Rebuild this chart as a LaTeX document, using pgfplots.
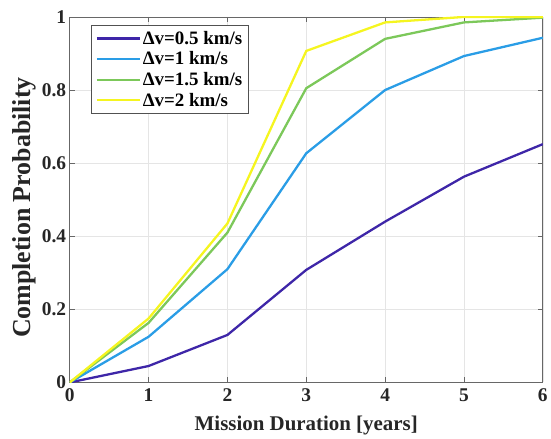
\documentclass[border=0pt]{standalone}
\usepackage{fontspec}
\setmainfont{Liberation Serif}
\usepackage{pgfplots}
\pgfplotsset{compat=1.18}
\definecolor{cA}{HTML}{3E26A8}
\definecolor{cB}{HTML}{2A9DE6}
\definecolor{cC}{HTML}{7CC85A}
\definecolor{cD}{HTML}{F5F520}
\definecolor{axgray}{HTML}{262626}
\begin{document}
\begin{tikzpicture}
\begin{axis}[
  name=ax,
  scale only axis, width=475pt, height=367pt,
  xmin=0, xmax=6, ymin=0, ymax=1,
  xtick={0,1,2,3,4,5,6}, ytick={0,0.2,0.4,0.6,0.8,1},
  tick align=inside, major tick length=5pt,
  grid=major, grid style={gray!20, line width=0.6pt},
  axis line style={axgray!70, line width=0.8pt},
  tick style={axgray!70, line width=0.8pt},
  ticklabel style={font=\fontsize{19.5}{21}\selectfont\bfseries, text=axgray},
  xticklabel style={yshift=-3pt},
  /pgf/number format/assume math mode=true,
  xlabel={Mission Duration [years]}, ylabel={Completion Probability},
  xlabel style={font=\fontsize{21}{23}\selectfont\bfseries, text=axgray, yshift=-7pt},
  ylabel style={font=\fontsize{26}{28}\selectfont\bfseries, text=axgray, yshift=-1pt, xshift=-8pt},
  legend style={at={(0.046,0.978)}, anchor=north west, draw=axgray!80,
    font=\fontsize{19}{22}\selectfont\bfseries, row sep=2pt, inner sep=4pt},
  legend cell align=left,
  legend image code/.code={\draw[#1, line width=2.3pt] (0pt,0pt) -- (43pt,0pt);},
  every axis plot/.append style={line width=2.3pt},
]
\addplot[cA] coordinates {(0,0) (1,0.045) (2,0.13) (3,0.308) (4,0.44) (5,0.563) (6,0.652)};
\addplot[cB] coordinates {(0,0) (1,0.125) (2,0.31) (3,0.627) (4,0.80) (5,0.893) (6,0.943)};
\addplot[cC] coordinates {(0,0) (1,0.163) (2,0.41) (3,0.805) (4,0.94) (5,0.985) (6,0.998)};
\addplot[cD] coordinates {(0,0) (1,0.175) (2,0.435) (3,0.907) (4,0.985) (5,1.0) (6,1.0)};
\legend{Δv=0.5 km/s, Δv=1 km/s, Δv=1.5 km/s, Δv=2 km/s}
\end{axis}
\path ([xshift=-70pt,yshift=-54pt]ax.south west) ([xshift=6pt,yshift=17pt]ax.north east);
\end{tikzpicture}
\end{document}
